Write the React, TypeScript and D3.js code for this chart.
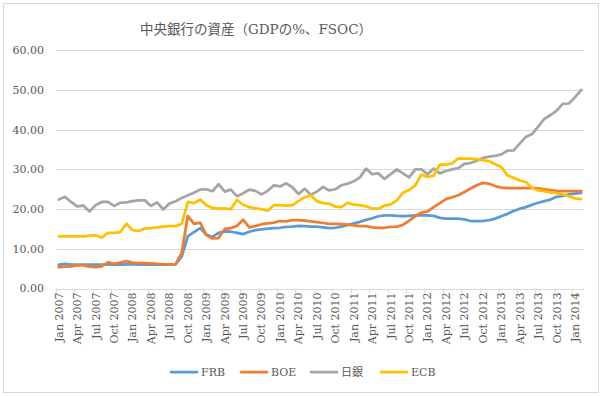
import * as d3 from 'd3'

const monthNames = ['Jan', 'Feb', 'Mar', 'Apr', 'May', 'Jun', 'Jul', 'Aug', 'Sep', 'Oct', 'Nov', 'Dec']
const years = [2007, 2008, 2009, 2010, 2011, 2012, 2013, 2014]
// monthly categories, Jan 2007 .. Feb 2014
const months: string[] = years.flatMap(y => monthNames.map(m => `${m} ${y}`)).slice(0, 86)
const tickLabels = months.filter((_, i) => i % 3 === 0)
const yTicks = [0, 10, 20, 30, 40, 50, 60]

const frb = [
  6.0, 6.2, 6.0, 6.0, 6.0, 6.0, 6.0, 6.0, 6.0, 6.0,
  6.0, 6.1, 6.1, 6.0, 6.0, 6.0, 6.0, 6.0, 6.0, 6.1,
  8.0, 13.2, 14.2, 15.2, 13.5, 13.0, 14.0, 14.4, 14.3, 14.0,
  13.7, 14.3, 14.7, 14.9, 15.1, 15.2, 15.3, 15.5, 15.6,
  15.8, 15.7, 15.6, 15.6, 15.4, 15.2, 15.3, 15.6, 16.0, 16.4,
  16.8, 17.3, 17.7, 18.2, 18.4, 18.4, 18.3, 18.2, 18.3, 18.4,
  18.4, 18.4, 18.3, 17.8, 17.6,
  17.6, 17.6, 17.4, 17.0, 17.0, 17.0, 17.2, 17.6, 18.2, 18.8,
  19.5, 20.1, 20.5, 21.1, 21.6, 22.0, 22.4, 23.1, 23.3, 23.7, 23.9, 24.1,
]
const boe = [
  5.4, 5.5, 5.6, 5.8, 5.8, 5.5, 5.4, 5.6, 6.6, 6.2,
  6.5, 6.9, 6.5, 6.4, 6.4, 6.3, 6.2, 6.1, 6.1, 6.1,
  9.0, 18.3, 16.3, 16.6, 13.5, 12.6, 12.7, 15.0, 15.2, 15.8,
  17.3, 15.4, 15.7, 16.2, 16.4, 16.6, 17.0, 16.9, 17.2, 17.2,
  17.1, 16.9, 16.7, 16.5, 16.3, 16.3, 16.2, 16.1, 15.9, 15.7,
  15.7, 15.4, 15.3, 15.3, 15.5,
  15.6, 16.0, 17.1, 18.2, 19.1, 19.4, 20.5, 21.5, 22.5, 23.0,
  23.5, 24.3, 25.2, 26.0, 26.6, 26.4, 25.8, 25.4, 25.3, 25.3,
  25.3, 25.3, 25.3, 25.2, 25.0, 24.8, 24.6, 24.5, 24.5, 24.5, 24.5,
]
const boj = [
  22.4, 23.1, 21.8, 20.7, 20.9, 19.4, 21.0, 21.8, 21.8, 20.8,
  21.6, 21.7, 22.0, 22.2, 22.2, 20.8, 21.7, 19.9, 21.4, 22.0,
  22.8, 23.5, 24.1, 24.9, 25.0, 24.5, 26.3, 24.4, 24.9, 23.2,
  24.0, 24.9, 24.6, 23.7, 24.6, 26.0, 25.7, 26.5, 25.5, 23.8,
  25.1, 23.6, 24.4, 25.6, 24.7, 25.0, 26.0, 26.4, 27.0, 28.0,
  30.2, 28.8, 29.0, 27.6, 28.8, 30.0, 29.0, 28.0, 30.0, 30.0,
  28.8, 30.2, 29.0, 29.6,
  30.0, 30.3, 31.4, 31.6, 32.2, 32.9, 33.2, 33.4, 33.8, 34.7,
  34.8, 36.5, 38.2, 38.9, 40.8, 42.7, 43.7, 44.8, 46.5, 46.6, 48.2, 50.0,
]
const ecb = [
  13.1, 13.1, 13.1, 13.1, 13.1, 13.3, 13.4, 12.8, 14.0, 14.0,
  14.2, 16.3, 14.7, 14.5, 15.1, 15.2, 15.4, 15.6, 15.7, 15.7,
  16.3, 21.8, 21.5, 22.4, 21.0, 20.3, 20.1, 20.2, 20.0, 22.3,
  21.1, 20.5, 20.2, 20.0, 19.6, 21.0, 21.0, 20.9, 21.0,
  22.0, 23.0, 23.5, 22.0, 21.5, 21.4, 20.6, 20.5, 21.6, 21.1,
  21.0, 20.7, 20.1, 20.1, 20.9, 21.2, 22.2, 24.1, 24.8, 26.0,
  28.7, 28.1, 28.4, 31.2, 31.2, 31.5,
  32.8, 32.7, 32.7, 32.6, 32.3, 32.1, 31.3, 30.6, 28.5, 27.9,
  27.2, 26.8, 25.3, 24.7, 24.5, 24.2, 24.0, 23.7, 23.2, 22.7, 22.5,
]

const series = [
  { name: 'FRB', values: frb, color: '#5B9BD5' },
  { name: 'BOE', values: boe, color: '#ED7D31' },
  { name: '日銀', values: boj, color: '#A5A5A5' },
  { name: 'ECB', values: ecb, color: '#FFC000' },
]

const width = 602
const height = 396
const textColor = '#595959'
const gridColor = '#d9d9d9'
const font = "'DejaVu Serif', 'Noto Sans CJK JP', serif"

export default function App() {
  const x = d3.scaleBand<string>().domain(months).range([55.7, 584.3]).paddingInner(0).paddingOuter(0)
  const y = d3.scaleLinear().domain([0, 60]).range([288.5, 50.3])
  const cx = (m: string) => (x(m) ?? 0) + x.bandwidth() / 2

  const line = d3.line<number>()
    .x((_, i) => cx(months[i]))
    .y(d => y(d))

  const [x0, x1] = x.range()
  const legendX = d3.scalePoint<string>().domain(series.map(s => s.name)).range([170, 380])

  return (
    <svg width={width} height={height} style={{ position: 'absolute', left: 0, top: 0 }} fontFamily={font}>
      <rect x={3.5} y={3.5} width={595} height={389} fill="#fff" stroke={gridColor} />

      <text x={256} y={33.5} textAnchor="middle" fontSize={13.5} fill={textColor}>
        中央銀行の資産（GDPの%、FSOC）
      </text>

      {/* gridlines + y labels */}
      {yTicks.map(t => (
        <g key={t}>
          <line x1={x0} x2={x1} y1={Math.round(y(t)) + 0.5} y2={Math.round(y(t)) + 0.5} stroke={gridColor} />
          <text x={44} y={y(t)} dy="0.35em" textAnchor="end" fontSize={11} fill={textColor}>
            {t.toFixed(2)}
          </text>
        </g>
      ))}

      {/* x ticks + rotated labels */}
      {tickLabels.map(m => {
        const bx = Math.round(x(m) ?? 0) + 0.5
        return (
          <g key={m}>
            <line x1={bx} x2={bx} y1={y(0)} y2={y(0) + 5} stroke={gridColor} />
            <text
              transform={`translate(${cx(m)},${y(0) + 4}) rotate(-90)`}
              dy="0.35em"
              textAnchor="end"
              fontSize={11}
              fill={textColor}
            >
              {m}
            </text>
          </g>
        )
      })}

      {series.map(s => (
        <path
          key={s.name}
          d={line(s.values) ?? ''}
          fill="none"
          stroke={s.color}
          strokeWidth={2.75}
          strokeLinejoin="round"
          strokeLinecap="round"
        />
      ))}

      {/* legend */}
      {series.map(s => {
        const lx = legendX(s.name) ?? 0
        return (
          <g key={s.name} transform={`translate(${lx},372)`}>
            <line x1={1} x2={27} y1={0} y2={0} stroke={s.color} strokeWidth={2.75} strokeLinecap="round" />
            <text x={31} y={0} dy="0.35em" fontSize={11} fill={textColor}>{s.name}</text>
          </g>
        )
      })}
    </svg>
  )
}
